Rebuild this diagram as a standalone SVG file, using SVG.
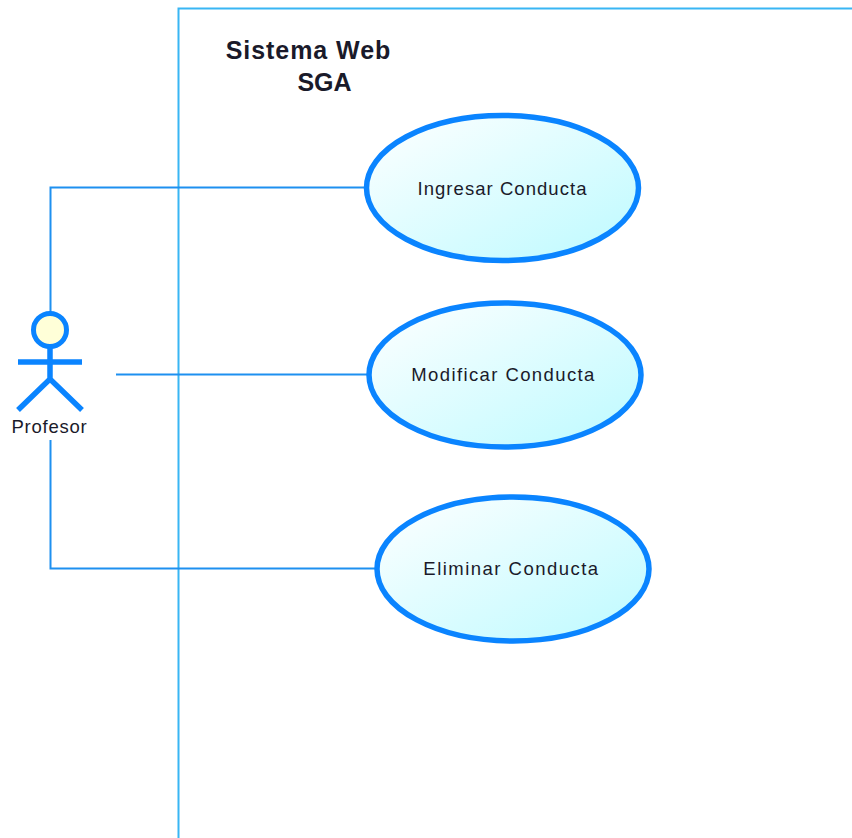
<svg xmlns="http://www.w3.org/2000/svg" width="852" height="838" viewBox="0 0 852 838">
<style>
text{font-family:"Liberation Sans",Arial,sans-serif;fill:#1a1a2a;text-anchor:middle}
.uc{fill:url(#g);stroke:#0a84ff;stroke-width:5.500}
.label{font-size:18.500px;letter-spacing:1.050px}
.label.wide{letter-spacing:1.400px}
.label.wider{letter-spacing:1.480px}
.title{font-size:25px;font-weight:bold}
.conn{fill:none;stroke:#1e90f0;stroke-width:2}
.act{fill:none;stroke:#0a84ff;stroke-width:5.500}
</style>
<defs>
<linearGradient id="g" x1="0" y1="0" x2="1" y2="1"><stop offset="0" stop-color="#ffffff"/><stop offset="1" stop-color="#bcfaff"/></linearGradient>
</defs>
<rect width="852" height="838" fill="#fff"/>
<g id="boundary"><path d="M178.500 838V8.500H852" fill="none" stroke="#38b6f4" stroke-width="2"/>
<text class="title" x="308.500" y="59" letter-spacing="0.950">Sistema Web</text><text class="title" x="324.500" y="91">SGA</text></g>
<g id="connectors">
<path class="conn" d="M50.500 313V187.500H365"/>
<path class="conn" d="M116 374.500H367"/>
<path class="conn" d="M50.500 440V568.500H375"/>
</g>
<g id="actor-profesor">
<circle cx="50" cy="330" r="16.500" fill="#ffffd8" stroke="#0a84ff" stroke-width="5"/>
<path class="act" d="M50 347V379M18 362H82M18 410L50 379L82 410"/>
<text x="49.500" y="433" font-size="18.500px" letter-spacing="0.750">Profesor</text>
</g>
<g id="uc-ingresar"><ellipse class="uc" cx="502.500" cy="188" rx="136" ry="72.500"/><text class="label" x="502.500" y="195">Ingresar Conducta</text></g>
<g id="uc-modificar"><ellipse class="uc" cx="505" cy="375" rx="136" ry="72"/><text class="label wide" x="503.500" y="381">Modificar Conducta</text></g>
<g id="uc-eliminar"><ellipse class="uc" cx="513" cy="569" rx="136" ry="72"/><text class="label wider" x="511.500" y="575">Eliminar Conducta</text></g>
</svg>
